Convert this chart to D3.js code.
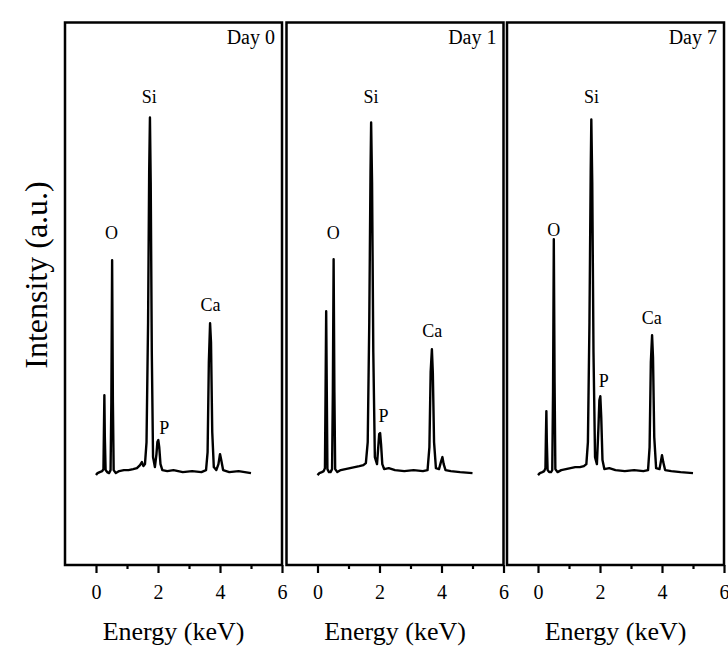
<!DOCTYPE html>
<html>
<head>
<meta charset="utf-8">
<script src="https://cdn.jsdelivr.net/npm/d3@7"></script>
<style>
  html, body { margin: 0; padding: 0; background: #fff; }
  svg { display: block; }
  text { font-family: "Liberation Serif", "Times New Roman", serif; fill: #000; }
</style>
</head>
<body>
<svg id="chart" width="728" height="662"></svg>
<script>
// ---------------- data ----------------
const panelTitles = ["Day 0", "Day 1", "Day 7"];
const xTickMajor = [0, 2, 4, 6];
const xTickMinor = [1, 3, 5];
const xAxisTitle = "Energy (keV)";
const yAxisTitle = "Intensity (a.u.)";

// spectra: [energy keV, intensity a.u.]
const day0 = [
  [0.00,-3],[0.05,-1],[0.12,0],[0.20,1],[0.24,3],[0.255,40],[0.27,77],[0.285,35],[0.31,2],[0.36,0],[0.42,-1],
  [0.47,2],[0.495,70],[0.52,212],[0.545,70],[0.57,2],[0.64,-1],[0.75,1],[0.9,2],[1.05,2],[1.2,3],[1.32,4],
  [1.42,7],[1.48,10],[1.53,6],[1.58,8],[1.63,30],[1.68,150],[1.715,300],[1.74,355],[1.765,290],[1.80,120],
  [1.84,15],[1.90,5],[1.95,18],[1.98,30],[2.01,32],[2.04,25],[2.08,8],[2.14,2],[2.3,1],[2.5,2],[2.8,0],
  [3.1,1],[3.4,0],[3.55,2],[3.6,20],[3.64,110],[3.68,149],[3.71,130],[3.75,40],[3.80,5],[3.88,2],[3.95,8],
  [4.0,18],[4.04,12],[4.1,2],[4.3,0],[4.6,1],[5.0,-1]
];
const day1 = [
  [0.00,-3],[0.06,-1],[0.14,0],[0.20,1],[0.24,4],[0.26,80],[0.28,161],[0.30,80],[0.32,3],[0.37,0],[0.42,0],
  [0.47,3],[0.495,80],[0.52,213],[0.545,80],[0.57,3],[0.64,0],[0.75,2],[0.9,3],[1.05,4],[1.2,5],[1.35,6],
  [1.48,7],[1.56,9],[1.62,30],[1.67,150],[1.71,300],[1.73,350],[1.76,290],[1.80,120],[1.85,15],[1.92,8],
  [1.96,25],[1.99,38],[2.02,39],[2.05,28],[2.09,8],[2.15,3],[2.3,4],[2.5,2],[2.8,1],[3.1,2],[3.4,1],
  [3.55,2],[3.61,25],[3.65,100],[3.69,123],[3.72,100],[3.76,30],[3.82,4],[3.92,3],[3.98,10],[4.03,15],
  [4.07,8],[4.13,2],[4.3,1],[4.6,0],[5.0,-1]
];
const day7 = [
  [0.00,-3],[0.06,-1],[0.14,0],[0.20,1],[0.24,4],[0.255,35],[0.27,61],[0.285,30],[0.31,2],[0.36,0],[0.42,0],
  [0.46,2],[0.485,80],[0.51,233],[0.535,90],[0.56,3],[0.63,0],[0.75,2],[0.9,3],[1.05,4],[1.2,5],[1.35,5],
  [1.48,6],[1.56,8],[1.61,30],[1.66,150],[1.70,300],[1.72,353],[1.75,290],[1.79,120],[1.84,15],[1.90,8],
  [1.95,45],[1.98,72],[2.01,76],[2.04,55],[2.08,12],[2.14,3],[2.3,4],[2.5,2],[2.8,1],[3.1,2],[3.4,1],
  [3.55,2],[3.6,25],[3.64,110],[3.68,137],[3.71,115],[3.75,35],[3.81,4],[3.92,3],[3.96,10],[4.0,17],
  [4.04,10],[4.1,2],[4.3,1],[4.6,0],[5.0,-1]
];
const spectra = [day0, day1, day7];

// element labels: [text, energy keV, intensity at text baseline]
const labels0 = [["O",0.50,233],["Si",1.72,369],["P",2.20,38],["Ca",3.69,161]];
const labels1 = [["O",0.51,233],["Si",1.73,369],["P",2.13,50],["Ca",3.70,135]];
const labels7 = [["O",0.51,236],["Si",1.73,369],["P",2.12,85],["Ca",3.67,148]];
const peakLabels = [labels0, labels1, labels7];

const xDomain = [-1, 6];
const yDomain = [-93, 450];

// ---------------- layout ----------------
const FONT = '"Liberation Serif", "Times New Roman", serif';
const svg = d3.select("#chart");
const plotTop = 22.5, plotBottom = 565;
const panelLeft = [65, 286.5, 507];
const panelW = 217;

const y = d3.scaleLinear().domain(yDomain).range([plotBottom, plotTop]);

panelLeft.forEach((left, i) => {
  const x = d3.scaleLinear().domain(xDomain).range([left, left + panelW]);
  const g = svg.append("g");

  // spectrum
  const line = d3.line().x(d => x(d[0])).y(d => y(d[1]));
  g.append("path")
    .datum(spectra[i])
    .attr("d", line)
    .attr("fill", "none")
    .attr("stroke", "#000")
    .attr("stroke-width", 2.4)
    .attr("stroke-linejoin", "round");

  // peak labels
  g.selectAll("text.peak")
    .data(peakLabels[i])
    .enter().append("text")
    .attr("class", "peak")
    .attr("x", d => x(d[1]))
    .attr("y", d => y(d[2]))
    .attr("text-anchor", "middle")
    .style("font-family", FONT)
    .style("font-size", "18px")
    .text(d => d[0]);

  // bottom axis: major ticks
  const axMajor = d3.axisBottom(x).tickValues(xTickMajor).tickSize(8).tickPadding(12)
    .tickFormat(d3.format("d"));
  const gx = g.append("g").attr("transform", `translate(0,${plotBottom})`).call(axMajor);
  gx.select(".domain").remove();
  gx.selectAll(".tick line").attr("stroke", "#000").attr("stroke-width", 2.2);
  gx.selectAll(".tick text")
    .style("font-family", FONT)
    .style("font-size", "20px").attr("fill", "#000");

  // minor ticks
  const axMinor = d3.axisBottom(x).tickValues(xTickMinor).tickSize(4).tickFormat("");
  const gm = g.append("g").attr("transform", `translate(0,${plotBottom})`).call(axMinor);
  gm.select(".domain").remove();
  gm.selectAll(".tick line").attr("stroke", "#000").attr("stroke-width", 2.2);

  // frame
  g.append("rect")
    .attr("x", left).attr("y", plotTop)
    .attr("width", panelW).attr("height", plotBottom - plotTop)
    .attr("fill", "none").attr("stroke", "#000").attr("stroke-width", 2.5);

  // panel title
  g.append("text")
    .attr("x", left + panelW - 7)
    .attr("y", plotTop + 21)
    .attr("text-anchor", "end")
    .style("font-family", FONT)
    .style("font-size", "20px")
    .text(panelTitles[i]);

  // x axis title
  g.append("text")
    .attr("x", x(2.5))
    .attr("y", 640)
    .attr("text-anchor", "middle")
    .style("font-family", FONT)
    .style("font-size", "26px")
    .text(xAxisTitle);
});

// y axis title
svg.append("text")
  .attr("transform", "translate(47,275) rotate(-90)")
  .attr("text-anchor", "middle")
  .style("font-family", FONT)
  .style("font-size", "32px")
  .text(yAxisTitle);
</script>
</body>
</html>
